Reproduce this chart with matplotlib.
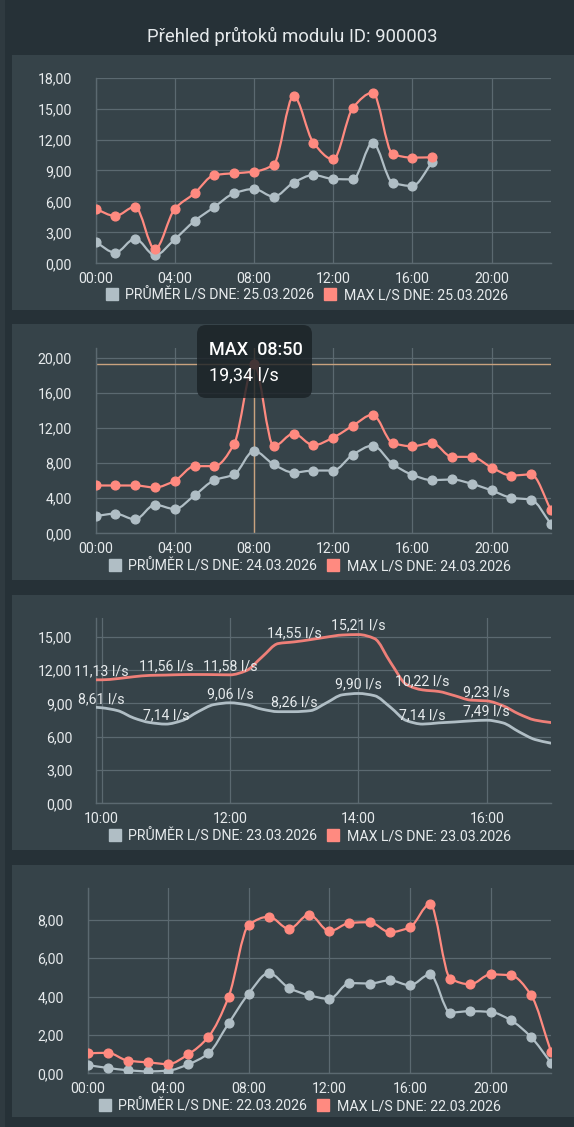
import numpy as np
import matplotlib
matplotlib.use("Agg")
import matplotlib.pyplot as plt
from matplotlib.path import Path
from matplotlib.patches import PathPatch, Rectangle, FancyBboxPatch
from matplotlib.transforms import Affine2D
from matplotlib.lines import Line2D

plt.rcParams['font.family'] = ['Roboto', 'DejaVu Sans']

# ---------------- data ----------------
TITLE = "Přehled průtoků modulu ID: 900003"
LBL_AVG = "PRŮMĚR L/S DNE: "
LBL_MAX = "MAX L/S DNE: "

date_25 = "25.03.2026"
avg_25 = [2.07, 1.03, 2.39, 0.78, 2.33, 4.10, 5.46, 6.79, 7.21, 6.46, 7.82, 8.56,
          8.18, 8.14, 11.70, 7.82, 7.50, 9.79]
max_25 = [5.27, 4.59, 5.49, 1.36, 5.27, 6.79, 8.56, 8.73, 8.89, 9.57, 16.22, 11.70,
          10.08, 15.09, 16.55, 10.60, 10.25, 10.28]

date_24 = "24.03.2026"
avg_24 = [1.97, 2.24, 1.59, 3.26, 2.77, 4.33, 6.07, 6.72, 9.41, 7.86, 6.94, 7.17,
          7.17, 8.99, 10.02, 7.93, 6.68, 6.07, 6.15, 5.65, 4.90, 4.06, 3.83, 1.06]
max_24 = [5.46, 5.46, 5.46, 5.24, 6.00, 7.67, 7.67, 10.21, 19.34, 9.94, 11.39, 10.06,
          10.93, 12.30, 13.55, 10.32, 9.94, 10.32, 8.73, 8.73, 7.51, 6.60, 6.72, 2.66]
tooltip_title = "MAX  08:50"
tooltip_value = "19,34 l/s"
tooltip_hour = 8

date_23 = "23.03.2026"
times_23 = ["09:55", "10:00", "10:15", "10:30", "10:45", "11:00", "11:15", "11:30",
            "11:45", "12:00", "12:15", "12:30", "12:45", "13:00", "13:15", "13:30",
            "13:45", "14:00", "14:15", "14:30", "14:45", "15:00", "15:15", "15:30",
            "15:45", "16:00", "16:15", "16:30", "16:45", "17:00"]
max_23 = [11.13, 11.13, 11.24, 11.41, 11.53, 11.56, 11.60, 11.61, 11.60, 11.58, 11.95,
          13.20, 14.40, 14.55, 14.75, 14.98, 15.17, 15.21, 14.85, 12.70, 10.70, 10.22,
          10.08, 9.70, 9.30, 9.23, 8.80, 8.05, 7.50, 7.28]
avg_23 = [8.65, 8.61, 8.35, 7.69, 7.28, 7.14, 7.45, 8.25, 8.90, 9.06, 8.89, 8.48,
          8.26, 8.26, 8.35, 9.05, 9.78, 9.90, 9.70, 8.65, 7.45, 7.14, 7.25, 7.33,
          7.43, 7.49, 7.25, 6.45, 5.75, 5.42]
label_times_23 = ["10:00", "11:00", "12:00", "13:00", "14:00", "15:00", "16:00"]

date_22 = "22.03.2026"
avg_22 = [0.43, 0.28, 0.16, 0.10, 0.14, 0.47, 1.04, 2.60, 4.16, 5.23, 4.45, 4.07,
          3.88, 4.71, 4.68, 4.85, 4.59, 5.16, 3.17, 3.24, 3.20, 2.77, 1.90, 0.55]
max_22 = [1.04, 1.07, 0.66, 0.57, 0.48, 0.99, 1.90, 3.98, 7.74, 8.17, 7.53, 8.28,
          7.41, 7.84, 7.88, 7.36, 7.62, 8.83, 4.94, 4.64, 5.16, 5.11, 4.10, 1.13]

# ---------------- style ----------------
W, H = 574, 1127
BG = '#263137'
PANEL = '#364349'
GRID = '#5b6970'
TEXT = '#e6eaec'
C_AVG = '#b0bec5'
C_MAX = '#ff8a80'
C_MAX3 = '#ee7f78'
CROSS = '#c9a27e'

fig = plt.figure(figsize=(W / 100, H / 100), dpi=100, facecolor=BG)
pxT = Affine2D().scale(1 / 100., -1 / 100.).translate(0, H / 100.) + fig.dpi_scale_trans


def tmin(s):
    h, m = s.split(':')
    return int(h) + int(m) / 60.0


def fmt(v):
    return f"{v:.2f}".replace('.', ',')


def monotone_path(x, y):
    x = np.asarray(x, float)
    y = np.asarray(y, float)
    n = len(x)
    h = np.diff(x)
    d = np.diff(y) / h
    m = np.zeros(n)
    m[0] = d[0]
    m[-1] = d[-1]
    for i in range(1, n - 1):
        if d[i - 1] * d[i] <= 0:
            m[i] = 0.0
        else:
            w1 = 2 * h[i] + h[i - 1]
            w2 = h[i] + 2 * h[i - 1]
            m[i] = (w1 + w2) / (w1 / d[i - 1] + w2 / d[i])
    verts = [(x[0], y[0])]
    codes = [Path.MOVETO]
    for i in range(n - 1):
        verts += [(x[i] + h[i] / 3, y[i] + m[i] * h[i] / 3),
                  (x[i + 1] - h[i] / 3, y[i + 1] - m[i + 1] * h[i] / 3),
                  (x[i + 1], y[i + 1])]
        codes += [Path.CURVE4] * 3
    return Path(verts, codes)


def add_axes_px(l, t, r, b):
    return fig.add_axes([l / W, 1 - b / H, (r - l) / W, (b - t) / H])


def panel_rect(t, b):
    fig.add_artist(Rectangle((12, t), W - 12, b - t, transform=pxT,
                             facecolor=PANEL, edgecolor='none', zorder=-5))


def style_axes(ax, xlim, ylim, xticks, xlabels, yticks):
    ax.set_facecolor('none')
    ax.set_xlim(*xlim)
    ax.set_ylim(*ylim)
    ax.set_xticks(xticks)
    ax.set_xticklabels(xlabels)
    ax.set_yticks(yticks)
    ax.set_yticklabels([fmt(v) for v in yticks])
    for s in ['top', 'right']:
        ax.spines[s].set_visible(False)
    for s in ['left', 'bottom']:
        ax.spines[s].set_color(GRID)
        ax.spines[s].set_linewidth(1.0)
    ax.grid(True, color=GRID, lw=0.9)
    ax.set_axisbelow(True)
    ax.tick_params(axis='both', length=0, colors=TEXT, labelsize=10.2)
    ax.tick_params(axis='y', pad=17)
    ax.tick_params(axis='x', pad=6.5)


def legend(ax, date, cx, cy):
    handles = [Line2D([], [], marker='s', ls='none', ms=8, color=C_AVG),
               Line2D([], [], marker='s', ls='none', ms=8, color=C_MAX)]
    labels = [LBL_AVG + date, LBL_MAX + date]
    lg = ax.legend(handles, labels, loc='center', ncol=2, frameon=False,
                   bbox_to_anchor=(cx / W, 1 - cy / H), bbox_transform=fig.transFigure,
                   fontsize=10.2, handlelength=0.8, handletextpad=0.55,
                   columnspacing=0.75, borderpad=0, labelcolor=TEXT)
    return lg


def draw_series(ax, x, y, color, markers=True, lw=1.6, z=3):
    ax.add_patch(PathPatch(monotone_path(x, y), fill=False, edgecolor=color,
                           lw=lw, zorder=z, capstyle='round', joinstyle='round'))
    if markers:
        ax.plot(x, y, 'o', ms=6.3, color=color, zorder=z + 0.5, mec=color)


hour_ticks = [0, 4, 8, 12, 16, 20]
hour_labels = ["00:00", "04:00", "08:00", "12:00", "16:00", "20:00"]

# title
fig.text(292, 36, TITLE, transform=pxT, ha='center', va='center',
         fontsize=13.3, color=TEXT)
fig.add_artist(Rectangle((0, 0), 5, H, transform=pxT, facecolor='#2f3a40',
                         edgecolor='none', zorder=-6))

# ---------- panel 1 ----------
panel_rect(55, 310)
ax1 = add_axes_px(95.5, 77.7, 551, 263.3)
style_axes(ax1, (0, 23), (0, 18), hour_ticks, hour_labels, [0, 3, 6, 9, 12, 15, 18])
x25 = list(range(len(avg_25)))
draw_series(ax1, x25, avg_25, C_AVG)
draw_series(ax1, x25, max_25, C_MAX)
legend(ax1, date_25, 307, 295)

# ---------- panel 2 ----------
panel_rect(324, 580)
ax2 = add_axes_px(95.5, 347.7, 551, 533.3)
style_axes(ax2, (0, 23), (0, 21.2), hour_ticks, hour_labels, [0, 4, 8, 12, 16, 20])
x24 = list(range(len(avg_24)))
draw_series(ax2, x24, avg_24, C_AVG)
draw_series(ax2, x24, max_24, C_MAX)
ax2.axhline(max_24[tooltip_hour], color=CROSS, lw=1.0, zorder=2.5)
ax2.axvline(tooltip_hour, color=CROSS, lw=1.0, zorder=2.5)
legend(ax2, date_24, 310, 566)
fig.add_artist(FancyBboxPatch((197, 325), 115, 73, transform=pxT,
                              boxstyle='round,pad=0,rounding_size=9',
                              facecolor='#1b2226', edgecolor='none', alpha=0.82,
                              zorder=10))
fig.text(209, 350, tooltip_title, transform=pxT, ha='left', va='center',
         fontsize=13, color='white', fontweight='medium', zorder=11)
fig.text(209, 375, tooltip_value, transform=pxT, ha='left', va='center',
         fontsize=13, color='white', zorder=11)

# ---------- panel 3 ----------
panel_rect(595, 850)
ax3 = add_axes_px(96, 617.7, 551, 803.3)
style_axes(ax3, (tmin(times_23[0]) - 0.005, tmin(times_23[-1])), (0, 16.73),
           [10, 12, 14, 16], ["10:00", "12:00", "14:00", "16:00"],
           [0, 3, 6, 9, 12, 15])
x23 = [tmin(s) for s in times_23]
draw_series(ax3, x23, avg_23, C_AVG, markers=False, lw=2.0)
draw_series(ax3, x23, max_23, C_MAX3, markers=False, lw=2.0)
for s in label_times_23:
    i = times_23.index(s)
    for arr in (avg_23, max_23):
        ax3.annotate(fmt(arr[i]) + " l/s", (x23[i], arr[i]), xytext=(0, 6.4),
                     textcoords='offset points', ha='center', va='center',
                     fontsize=10.2, color=TEXT, zorder=6, annotation_clip=False)
legend(ax3, date_23, 310, 836)

# ---------- panel 4 ----------
panel_rect(865, 1117)
ax4 = add_axes_px(87.5, 887.7, 551, 1073.3)
style_axes(ax4, (0, 23), (0, 9.68), hour_ticks, hour_labels, [0, 2, 4, 6, 8])
x22 = list(range(len(avg_22)))
draw_series(ax4, x22, avg_22, C_AVG)
draw_series(ax4, x22, max_22, C_MAX)
legend(ax4, date_22, 300, 1106)

fig.savefig("out.png", dpi=100, facecolor=BG)
